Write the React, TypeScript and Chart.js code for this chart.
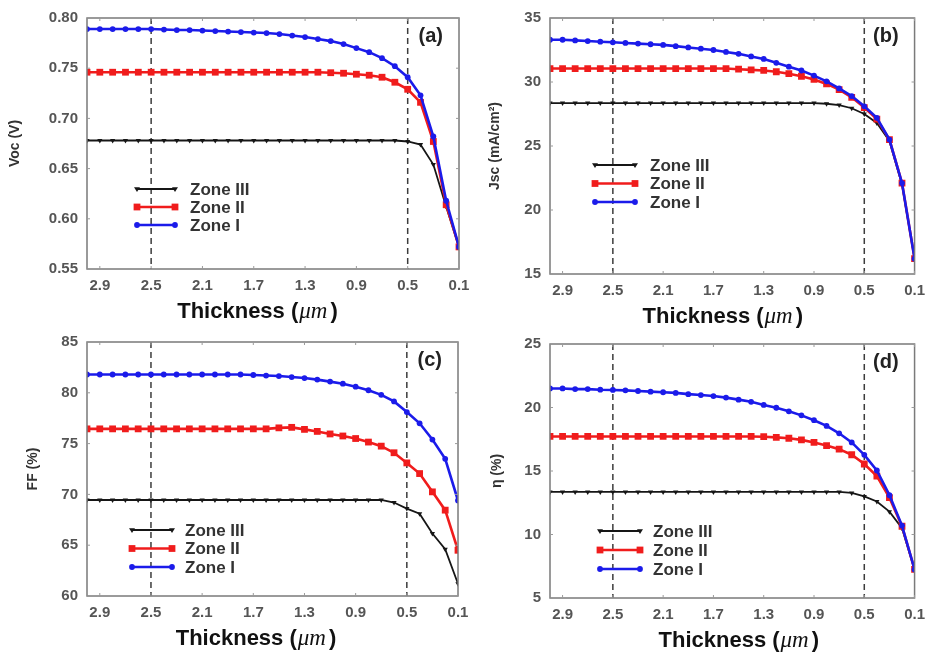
import React, { useEffect, useRef } from "react";
import { Chart, registerables } from "chart.js";

Chart.register(...registerables);

// Absorber thickness (µm), swept from thick to thin
const thickness = [
  3.0, 2.9, 2.8, 2.7, 2.6, 2.5, 2.4, 2.3, 2.2, 2.1, 2.0, 1.9, 1.8, 1.7, 1.6,
  1.5, 1.4, 1.3, 1.2, 1.1, 1.0, 0.9, 0.8, 0.7, 0.6, 0.5, 0.4, 0.3, 0.2, 0.1,
];
const thicknessTicks = [2.9, 2.5, 2.1, 1.7, 1.3, 0.9, 0.5, 0.1];
const guideThickness = [2.5, 0.5];
const zoneNames = ["Zone III", "Zone II", "Zone I"];

// (a) Open-circuit voltage, V
const vocTicks = [0.55, 0.6, 0.65, 0.7, 0.75, 0.8];
const vocZone3 = [
  0.678, 0.678, 0.678, 0.678, 0.678, 0.678, 0.678, 0.678, 0.678, 0.678, 0.678, 0.678, 0.678, 0.678, 0.678,
  0.678, 0.678, 0.678, 0.678, 0.678, 0.678, 0.678, 0.678, 0.678, 0.678, 0.677, 0.674, 0.654, 0.612, 0.572,
];
const vocZone2 = [
  0.746, 0.746, 0.746, 0.746, 0.746, 0.746, 0.746, 0.746, 0.746, 0.746, 0.746, 0.746, 0.746, 0.746, 0.746,
  0.746, 0.746, 0.746, 0.746, 0.7455, 0.745, 0.744, 0.743, 0.741, 0.736, 0.729, 0.716, 0.677, 0.614, 0.572,
];
const vocZone1 = [
  0.789, 0.789, 0.789, 0.789, 0.789, 0.789, 0.7885, 0.788, 0.788, 0.7875, 0.787, 0.7865, 0.786, 0.7855, 0.785,
  0.784, 0.7825, 0.781, 0.779, 0.777, 0.774, 0.77, 0.766, 0.76, 0.752, 0.741, 0.723, 0.682, 0.618, 0.572,
];

// (b) Short-circuit current density, mA/cm²
const jscTicks = [15, 20, 25, 30, 35];
const jscZone3 = [
  28.35, 28.35, 28.35, 28.35, 28.35, 28.35, 28.35, 28.35, 28.35, 28.35, 28.35, 28.35, 28.35, 28.35, 28.35,
  28.35, 28.35, 28.35, 28.35, 28.35, 28.35, 28.35, 28.3, 28.2, 27.95, 27.5, 26.8, 25.4, 22.0, 16.2,
];
const jscZone2 = [
  31.05, 31.05, 31.05, 31.05, 31.05, 31.05, 31.05, 31.05, 31.05, 31.05, 31.05, 31.05, 31.05, 31.05, 31.05,
  31.0, 30.95, 30.9, 30.8, 30.65, 30.45, 30.2, 29.85, 29.4, 28.8, 28.0, 27.1, 25.5, 22.1, 16.2,
];
const jscZone1 = [
  33.3, 33.3, 33.25, 33.2, 33.15, 33.1, 33.05, 33.0, 32.95, 32.9, 32.8, 32.7, 32.6, 32.5, 32.35,
  32.2, 32.0, 31.8, 31.5, 31.2, 30.9, 30.5, 30.05, 29.5, 28.9, 28.1, 27.2, 25.5, 22.1, 16.2,
];

// (c) Fill factor, %
const ffTicks = [60, 65, 70, 75, 80, 85];
const ffZone3 = [
  69.45, 69.45, 69.45, 69.45, 69.45, 69.45, 69.45, 69.45, 69.45, 69.45, 69.45, 69.45, 69.45, 69.45, 69.45,
  69.45, 69.45, 69.45, 69.45, 69.45, 69.45, 69.45, 69.45, 69.45, 69.2, 68.6, 68.1, 66.15, 64.6, 61.2,
];
const ffZone2 = [
  76.45, 76.45, 76.45, 76.45, 76.45, 76.45, 76.45, 76.45, 76.45, 76.45, 76.45, 76.45, 76.45, 76.45, 76.45,
  76.55, 76.6, 76.4, 76.2, 75.95, 75.75, 75.5, 75.15, 74.75, 74.1, 73.1, 72.05, 70.25, 68.45, 64.5,
];
const ffZone1 = [
  81.8, 81.8, 81.8, 81.8, 81.8, 81.8, 81.8, 81.8, 81.8, 81.8, 81.8, 81.8, 81.8, 81.75, 81.7,
  81.65, 81.55, 81.45, 81.3, 81.1, 80.9, 80.6, 80.25, 79.8, 79.15, 78.1, 77.0, 75.4, 73.5, 69.4,
];

// (d) Conversion efficiency, %
const etaTicks = [5, 10, 15, 20, 25];
const etaZone3 = [
  13.35, 13.35, 13.35, 13.35, 13.35, 13.35, 13.35, 13.35, 13.35, 13.35, 13.35, 13.35, 13.35, 13.35, 13.35,
  13.35, 13.35, 13.35, 13.35, 13.35, 13.35, 13.35, 13.35, 13.35, 13.27, 13.0, 12.6, 11.8, 10.5, 7.25,
];
const etaZone2 = [
  17.72, 17.72, 17.72, 17.72, 17.72, 17.72, 17.72, 17.72, 17.72, 17.72, 17.72, 17.72, 17.72, 17.72, 17.72,
  17.72, 17.72, 17.7, 17.65, 17.58, 17.45, 17.25, 17.0, 16.72, 16.28, 15.55, 14.6, 12.9, 10.65, 7.25,
];
const etaZone1 = [
  21.5, 21.5, 21.45, 21.45, 21.4, 21.38, 21.35, 21.3, 21.25, 21.2, 21.15, 21.05, 20.98, 20.9, 20.78,
  20.62, 20.45, 20.2, 19.98, 19.7, 19.38, 19.0, 18.55, 17.97, 17.25, 16.27, 15.04, 13.1, 10.7, 7.25,
];

const SANS = "'Liberation Sans', Arial, Helvetica, sans-serif";
const SERIF = "'Liberation Serif', 'DejaVu Serif', 'Times New Roman', serif";

type MarkerKind = "triangle" | "rect" | "circle";
interface ZoneStyle {
  color: string;
  width: number;
  marker: MarkerKind;
  radius: number;
  order: number;
}
const zoneStyles: ZoneStyle[] = [
  { color: "#161616", width: 1.8, marker: "triangle", radius: 3, order: 2 },
  { color: "#f01c1c", width: 2.6, marker: "rect", radius: 4.8, order: 1 },
  { color: "#1b1bea", width: 2.6, marker: "circle", radius: 2.9, order: 0 },
];

interface PanelSpec {
  tag: string;
  yTitle: string;
  yTicks: number[];
  decimals: number;
  series: number[][];
  canvas: { x: number; y: number; w: number; h: number };
  plot: { l: number; t: number; r: number; b: number };
  yTitleGap: number;
  xTitleShift: number;
  legend: { x0: number; x1: number; textX: number; top: number; gap: number };
}

const X_AXIS_H = 40;

const panels: PanelSpec[] = [
  {
    tag: "(a)",
    yTitle: "Voc (V)",
    yTicks: vocTicks,
    decimals: 2,
    series: [vocZone3, vocZone2, vocZone1],
    canvas: { x: 0, y: 0, w: 480, h: 335 },
    plot: { l: 87, t: 15, r: 459, b: 269 },
    yTitleGap: 72,
    xTitleShift: -16,
    legend: { x0: 50, x1: 88, textX: 103, top: 171, gap: 18 },
  },
  {
    tag: "(b)",
    yTitle: "Jsc (mA/cm²)",
    yTicks: jscTicks,
    decimals: 0,
    series: [jscZone3, jscZone2, jscZone1],
    canvas: { x: 458, y: 0, w: 475, h: 335 },
    plot: { l: 550, t: 18, r: 922, b: 274 },
    yTitleGap: 55,
    xTitleShift: -10,
    legend: { x0: 45, x1: 85, textX: 100, top: 147, gap: 18.5 },
  },
  {
    tag: "(c)",
    yTitle: "FF (%)",
    yTicks: ffTicks,
    decimals: 0,
    series: [ffZone3, ffZone2, ffZone1],
    canvas: { x: 0, y: 322, w: 480, h: 333 },
    plot: { l: 87, t: 342, r: 458, b: 596 },
    yTitleGap: 54,
    xTitleShift: -17,
    legend: { x0: 45, x1: 85, textX: 98, top: 188, gap: 18.5 },
  },
  {
    tag: "(d)",
    yTitle: "η (%)",
    yTicks: etaTicks,
    decimals: 0,
    series: [etaZone3, etaZone2, etaZone1],
    canvas: { x: 458, y: 322, w: 475, h: 333 },
    plot: { l: 550, t: 344, r: 922, b: 598 },
    yTitleGap: 53,
    xTitleShift: 6,
    legend: { x0: 50, x1: 90, textX: 103, top: 187, gap: 19 },
  },
];

function drawMarker(
  ctx: CanvasRenderingContext2D,
  kind: MarkerKind,
  x: number,
  y: number,
  r: number,
  color: string
) {
  ctx.fillStyle = color;
  ctx.beginPath();
  if (kind === "circle") {
    ctx.arc(x, y, r, 0, Math.PI * 2);
  } else if (kind === "rect") {
    const s = r * Math.SQRT1_2;
    ctx.rect(x - s, y - s, 2 * s, 2 * s);
  } else {
    ctx.moveTo(x - r, y - r * 0.55);
    ctx.lineTo(x + r, y - r * 0.55);
    ctx.lineTo(x, y + r);
    ctx.closePath();
  }
  ctx.fill();
}

function makeDecor(spec: PanelSpec) {
  return {
    id: "panelDecor",
    beforeDatasetsDraw(chart: any) {
      const { ctx, chartArea: a, scales } = chart;
      ctx.save();
      ctx.strokeStyle = "#3c3c3c";
      ctx.lineWidth = 1.5;
      ctx.setLineDash([6, 4]);
      for (const v of guideThickness) {
        const px = scales.x.getPixelForValue(v);
        ctx.beginPath();
        ctx.moveTo(px, a.top);
        ctx.lineTo(px, a.bottom);
        ctx.stroke();
      }
      ctx.restore();
    },
    afterDraw(chart: any) {
      const { ctx, chartArea: a, scales } = chart;
      ctx.save();

      // frame with small inward ticks
      ctx.strokeStyle = "#7a7a7a";
      ctx.lineWidth = 1.5;
      ctx.strokeRect(a.left, a.top, a.right - a.left, a.bottom - a.top);
      ctx.lineWidth = 1;
      ctx.strokeStyle = "#9a9a9a";
      for (const v of thicknessTicks) {
        const px = scales.x.getPixelForValue(v);
        ctx.beginPath();
        ctx.moveTo(px, a.bottom);
        ctx.lineTo(px, a.bottom - 3);
        ctx.moveTo(px, a.top);
        ctx.lineTo(px, a.top + 3);
        ctx.stroke();
      }
      for (const v of spec.yTicks) {
        const py = scales.y.getPixelForValue(v);
        ctx.beginPath();
        ctx.moveTo(a.left, py);
        ctx.lineTo(a.left + 3, py);
        ctx.moveTo(a.right, py);
        ctx.lineTo(a.right - 3, py);
        ctx.stroke();
      }

      // panel tag
      ctx.fillStyle = "#222";
      ctx.font = `bold 20px ${SANS}`;
      ctx.textAlign = "right";
      ctx.textBaseline = "middle";
      ctx.fillText(spec.tag, a.right - 16, a.top + 18);

      // legend
      const lg = spec.legend;
      zoneNames.forEach((name, i) => {
        const st = zoneStyles[i];
        const y = a.top + lg.top + i * lg.gap;
        const x0 = a.left + lg.x0;
        const x1 = a.left + lg.x1;
        ctx.strokeStyle = st.color;
        ctx.lineWidth = st.width;
        ctx.setLineDash([]);
        ctx.beginPath();
        ctx.moveTo(x0, y);
        ctx.lineTo(x1, y);
        ctx.stroke();
        drawMarker(ctx, st.marker, x0, y, st.radius, st.color);
        drawMarker(ctx, st.marker, x1, y, st.radius, st.color);
        ctx.fillStyle = "#333";
        ctx.font = `bold 17px ${SANS}`;
        ctx.textAlign = "left";
        ctx.textBaseline = "middle";
        ctx.fillText(name, a.left + lg.textX, y + 1);
      });

      // y title
      ctx.save();
      ctx.translate(a.left - spec.yTitleGap, (a.top + a.bottom) / 2);
      ctx.rotate(-Math.PI / 2);
      ctx.fillStyle = "#333";
      ctx.font = `bold 14px ${SANS}`;
      ctx.textAlign = "center";
      ctx.textBaseline = "middle";
      ctx.fillText(spec.yTitle, 0, 0);
      ctx.restore();

      // x title: "Thickness (" + italic μm + ")"
      const boldFont = `bold 22px ${SANS}`;
      const italFont = `italic 23px ${SERIF}`;
      const p1 = "Thickness (";
      const p2 = "μm";
      const p3 = ")";
      ctx.font = boldFont;
      const w1 = ctx.measureText(p1).width;
      const w3 = ctx.measureText(p3).width;
      ctx.font = italFont;
      const w2 = ctx.measureText(p2).width + 3;
      const total = w1 + w2 + w3;
      let tx = (a.left + a.right) / 2 + spec.xTitleShift - total / 2;
      const ty = a.bottom + 49;
      ctx.fillStyle = "#111";
      ctx.textAlign = "left";
      ctx.textBaseline = "alphabetic";
      ctx.font = boldFont;
      ctx.fillText(p1, tx, ty);
      tx += w1 + 1;
      ctx.font = italFont;
      ctx.fillText(p2, tx, ty);
      tx += w2;
      ctx.font = boldFont;
      ctx.fillText(p3, tx, ty);

      ctx.restore();
    },
  };
}

function Panel({ spec }: { spec: PanelSpec }) {
  const ref = useRef<HTMLCanvasElement | null>(null);
  const { canvas, plot } = spec;

  useEffect(() => {
    if (!ref.current) return;
    const yAxisW = plot.l - canvas.x;
    const padRight = canvas.x + canvas.w - plot.r;
    const padTop = plot.t - canvas.y;
    const padBottom = canvas.y + canvas.h - plot.b - X_AXIS_H;
    const tickFont = { family: SANS, size: 15, weight: "bold" as const };

    const chart = new Chart(ref.current, {
      type: "line",
      data: {
        datasets: zoneNames.map((name, i) => {
          const st = zoneStyles[i];
          return {
            label: name,
            data: thickness.map((t, k) => ({ x: t, y: spec.series[i][k] })),
            borderColor: st.color,
            backgroundColor: st.color,
            borderWidth: st.width,
            pointStyle: st.marker,
            pointRotation: st.marker === "triangle" ? 180 : 0,
            pointRadius: st.radius,
            pointBorderWidth: 0,
            pointBackgroundColor: st.color,
            tension: 0,
            order: st.order,
          };
        }),
      },
      options: {
        animation: false,
        responsive: false,
        devicePixelRatio: 1,
        layout: { padding: { left: 0, right: padRight, top: padTop, bottom: padBottom } },
        plugins: {
          legend: { display: false },
          tooltip: { enabled: false },
        },
        scales: {
          x: {
            type: "linear",
            reverse: true,
            min: 0.1,
            max: 3.0,
            grid: { display: false, drawTicks: false },
            border: { display: false },
            ticks: {
              font: tickFont,
              color: "#555",
              padding: 8,
              maxRotation: 0,
              autoSkip: false,
              callback: (v: any) => Number(v).toFixed(1),
            },
            afterBuildTicks: (scale: any) => {
              scale.ticks = thicknessTicks.map((v) => ({ value: v }));
            },
            afterFit: (scale: any) => {
              scale.height = X_AXIS_H;
            },
          },
          y: {
            type: "linear",
            min: spec.yTicks[0],
            max: spec.yTicks[spec.yTicks.length - 1],
            grid: { display: false, drawTicks: false },
            border: { display: false },
            ticks: {
              font: tickFont,
              color: "#555",
              padding: 9,
              autoSkip: false,
              callback: (v: any) => Number(v).toFixed(spec.decimals),
            },
            afterBuildTicks: (scale: any) => {
              scale.ticks = spec.yTicks.map((v) => ({ value: v }));
            },
            afterFit: (scale: any) => {
              scale.width = yAxisW;
            },
          },
        },
      },
      plugins: [makeDecor(spec)],
    } as any);
    return () => chart.destroy();
  }, [spec]);

  return (
    <canvas
      ref={ref}
      width={canvas.w}
      height={canvas.h}
      style={{
        position: "absolute",
        left: canvas.x,
        top: canvas.y,
        width: canvas.w,
        height: canvas.h,
      }}
    />
  );
}

export default function App() {
  return (
    <div
      style={{
        position: "absolute",
        left: 0,
        top: 0,
        width: 933,
        height: 655,
        background: "#fff",
        overflow: "hidden",
      }}
    >
      {panels.map((p) => (
        <Panel key={p.tag} spec={p} />
      ))}
    </div>
  );
}
